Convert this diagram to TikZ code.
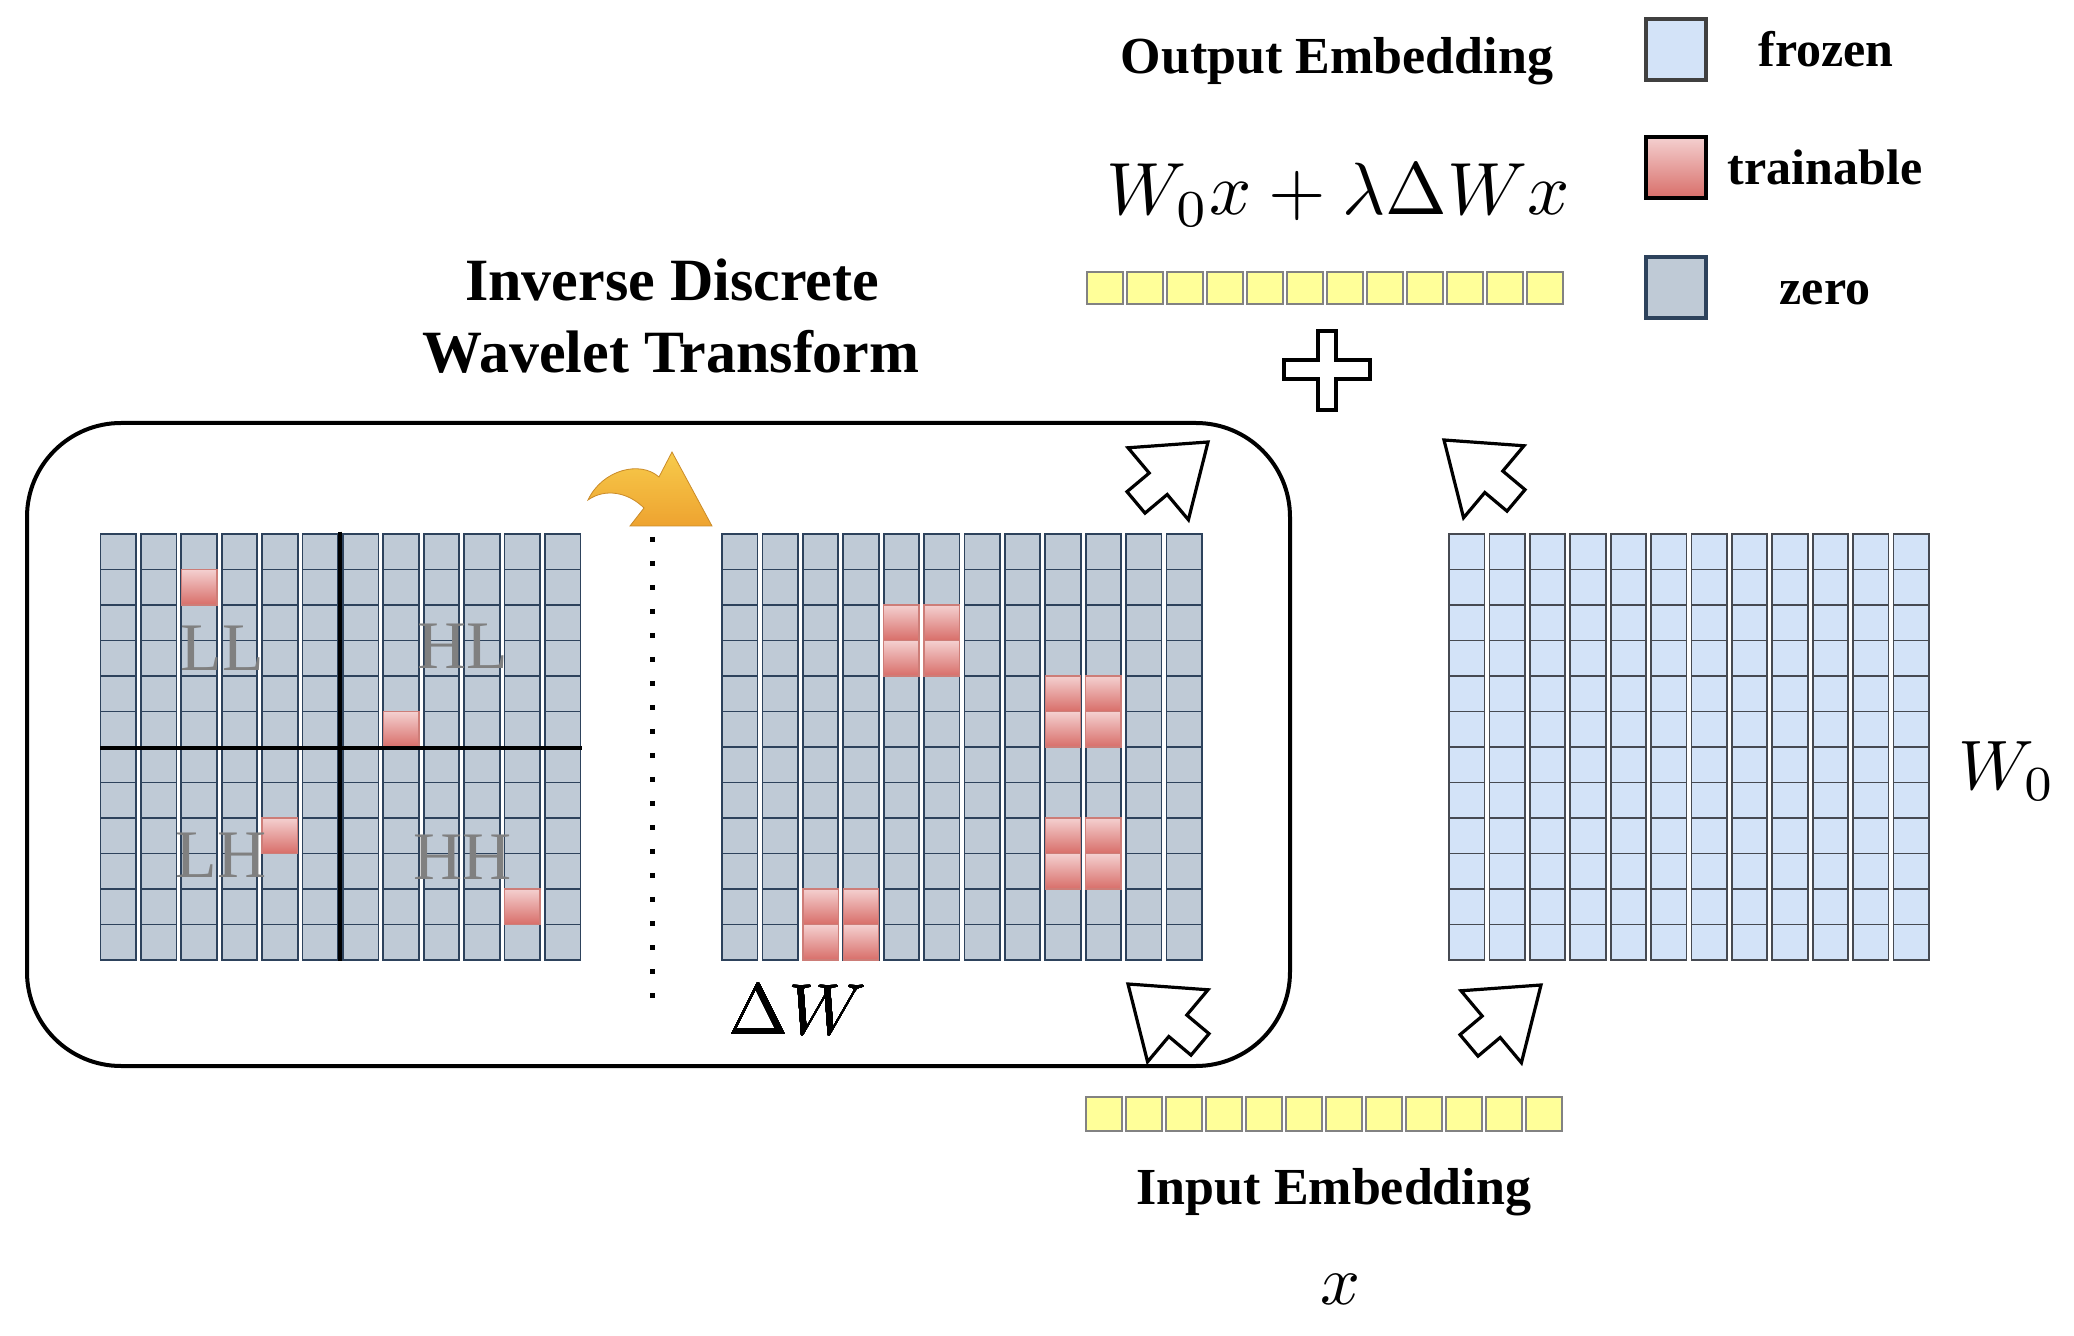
\documentclass[tikz,border=0pt]{standalone}
\usepackage[no-math]{fontspec}
\setmainfont{Liberation Serif}
\usetikzlibrary{positioning}

% Farben
\definecolor{nullfarbe}{RGB}{191,202,214}
\definecolor{nullrand}{RGB}{45,66,92}
\definecolor{eisfarbe}{RGB}{211,227,248}
\definecolor{eisrand}{RGB}{70,74,82}
\definecolor{gelb}{RGB}{255,255,153}
\definecolor{gelbrand}{RGB}{130,130,130}
\definecolor{rosa}{RGB}{244,208,208}
\definecolor{rot}{RGB}{216,110,105}
\definecolor{rotrand}{RGB}{205,125,120}
\definecolor{orangehell}{RGB}{247,203,75}
\definecolor{orangedunkel}{RGB}{238,163,48}

\tikzset{
    nullzelle/.style={fill=nullfarbe, draw=nullrand, line width=0.9pt},
    eiszelle/.style={fill=eisfarbe, draw=eisrand, line width=0.9pt},
    lernzelle/.style={top color=rosa, bottom color=rot, draw=rotrand, line width=0.7pt},
    gelbzelle/.style={fill=gelb, draw=gelbrand, line width=0.8pt},
    titel/.style={anchor=base, font=\fontsize{30}{36}\selectfont\bfseries},
    beschriftung/.style={anchor=base, font=\fontsize{26}{31}\selectfont\bfseries},
    legende/.style={anchor=base, font=\fontsize{25}{30}\selectfont\bfseries},
    band/.style={text=black!50, font=\fontsize{34}{40}\selectfont},
    formel/.style={anchor=base, inner sep=0pt},
    blockpfeil/.pic={
        \draw[line width=1.6pt, fill=white, line join=miter]
            (0,0) -- (-65,47) -- (-65,14) -- (-94,14) -- (-94,-14)
            -- (-65,-14) -- (-65,-47) -- cycle;
    }
}

% 12x12 Gitter: x, y, Stil
\newcommand{\gitter}[3]{%
    \foreach \spalte in {0,...,11}{
        \foreach \zeile in {0,...,11}{
            \draw[#3] ({#1+\spalte*40.4},{#2+\zeile*35.5}) rectangle ++(35.5,35.5);
        }
    }
}
% trainierbares Feld: x, y, Spalte, Zeile
\newcommand{\lernfeld}[4]{%
    \draw[lernzelle] ({#1+#3*40.4},{#2+#4*35.5}) rectangle ++(35.5,35.5);
}

\begin{document}
\begin{tikzpicture}[x=0.5pt, y=-0.5pt]
        \useasboundingbox (0,0) rectangle (2074,1336);

        % Rahmen IDWT
        \draw[line width=2pt, rounded corners=47pt] (27,423) rectangle (1290,1066);
        \node[titel] (idwt1) at (672,301) {Inverse Discrete};
        \node[titel] (idwt2) at (671,373) {Wavelet Transform};

        % Teilbaender
        \gitter{100.5}{534}{nullzelle}
        \foreach \s/\z in {2/1, 7/5, 4/8, 10/10}
            \lernfeld{100.5}{534}{\s}{\z}
        \draw[line width=1.8pt] (340,532) -- (340,961);
        \draw[line width=1.8pt] (100,748) -- (582,748);
        \node[band] (ll) at (222,648) {LL};
        \node[band] (hl) at (463,646) {HL};
        \node[band] (lh) at (221,855) {LH};
        \node[band] (hh) at (463,857) {HH};

        % Trennlinie und Pfeil
        \draw[line width=2.5pt, dash pattern=on 2.5pt off 9.5pt] (652,537) -- (652,998);
        \draw[draw=orangedunkel!85!black, line width=0.4pt, top color=orangehell, bottom color=orangedunkel]
            (588,500) .. controls (602,470) and (640,460) .. (659,477)
            -- (672,452) -- (712,526) -- (630,526) -- (644,508)
            .. controls (628,492) and (605,488) .. (588,500) -- cycle;

        % Delta W
        \gitter{722}{534}{nullzelle}
        \foreach \s/\z in {4/2, 5/2, 4/3, 5/3, 8/4, 9/4, 8/5, 9/5,
                           8/8, 9/8, 8/9, 9/9, 2/10, 3/10, 2/11, 3/11}
            \lernfeld{722}{534}{\s}{\z}
        \node[formel, scale=3.6] (dw) at (797,1034) {$\Delta W$};

        % W0
        \gitter{1449}{534}{eiszelle}
        \node[formel, anchor=base west, scale=3.5] (wnull) at (1957,790) {$W_0$};

        % Einbettungen
        \foreach \i in {0,...,11}
            \draw[gelbzelle] ({1087+\i*40},272) rectangle ++(36,32);
        \foreach \i in {0,...,11}
            \draw[gelbzelle] ({1086+\i*40},1097) rectangle ++(36,34);
        \node[beschriftung] (ausgabe) at (1337,74) {Output Embedding};
        \node[formel, scale=3.7] (summe) at (1338,215) {$W_0x+\lambda\Delta Wx$};
        \node[beschriftung] (eingabe) at (1334,1204) {Input Embedding};
        \node[formel, scale=3.5] (xein) at (1340,1304) {$x$};

        % Plus
        \draw[line width=1.8pt, fill=white]
            (1318,331) -- (1336,331) -- (1336,360) -- (1370,360) -- (1370,379)
            -- (1336,379) -- (1336,410) -- (1318,410) -- (1318,379) -- (1284,379)
            -- (1284,360) -- (1318,360) -- cycle;

        % Blockpfeile
        \pic[rotate=40] at (1208,442) {blockpfeil};
        \pic[rotate=140] at (1444,440) {blockpfeil};
        \pic[rotate=140] at (1128,984) {blockpfeil};
        \pic[rotate=40] at (1541,985) {blockpfeil};

        % Legende
        \draw[eiszelle, draw=black!75, line width=2pt] (1646,19) rectangle (1706,80);
        \draw[lernzelle, draw=black, line width=2pt] (1646,137) rectangle (1706,198);
        \draw[nullzelle, line width=2pt] (1646,257) rectangle (1706,318);
        \node[legende] (frozen) at (1826,67) {frozen};
        \node[legende] (trainable) at (1825,185) {trainable};
        \node[legende] (zero) at (1825,305) {zero};

\end{tikzpicture}
\end{document}
